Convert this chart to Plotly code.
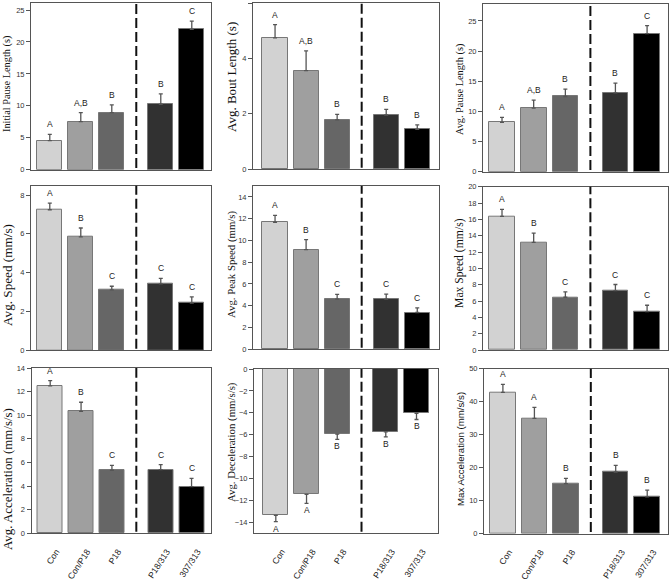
import plotly.graph_objects as go

# ---------------- data ----------------
categories = ["Con", "Con/P18", "P18", "P18/313", "307/313"]

initial_pause_mean = [4.55, 7.53, 8.94, 10.25, 21.97]
initial_pause_se = [0.99, 1.41, 1.21, 1.62, 1.30]
initial_pause_letters = ["A", "A,B", "B", "B", "C"]

bout_length_mean = [4.74, 3.56, 1.78, 1.96, 1.44]
bout_length_se = [0.48, 0.71, 0.20, 0.20, 0.16]
bout_length_letters = ["A", "A,B", "B", "B", "B"]

pause_length_mean = [8.17, 10.54, 12.47, 13.08, 22.90]
pause_length_se = [0.83, 1.32, 1.23, 1.60, 1.30]
pause_length_letters = ["A", "A,B", "B", "B", "C"]

avg_speed_mean = [7.24, 5.84, 3.11, 3.42, 2.43]
avg_speed_se = [0.34, 0.46, 0.19, 0.29, 0.32]
avg_speed_letters = ["A", "B", "C", "C", "C"]

peak_speed_mean = [11.67, 9.15, 4.60, 4.60, 3.38]
peak_speed_se = [0.64, 0.92, 0.44, 0.47, 0.42]
peak_speed_letters = ["A", "B", "C", "C", "C"]

max_speed_mean = [16.37, 13.17, 6.46, 7.28, 4.70]
max_speed_se = [0.85, 1.15, 0.66, 0.74, 0.78]
max_speed_letters = ["A", "B", "C", "C", "C"]

avg_accel_mean = [12.48, 10.33, 5.34, 5.39, 3.95]
avg_accel_se = [0.45, 0.77, 0.42, 0.43, 0.71]
avg_accel_letters = ["A", "B", "C", "C", "C"]

avg_decel_mean = [-13.36, -11.45, -5.95, -5.74, -4.04]
avg_decel_se = [0.58, 0.82, 0.48, 0.45, 0.57]
avg_decel_letters = ["A", "A", "B", "B", "B"]

max_accel_mean = [42.80, 34.95, 15.15, 18.70, 11.20]
max_accel_se = [2.45, 3.35, 1.62, 2.00, 2.00]
max_accel_letters = ["A", "A", "B", "B", "B"]

# ---------------- layout / style ----------------
W, H = 669, 584
x_pos = [0, 1, 2, 3.58, 4.58]
divider_x = 2.79
bar_colors = ["#d2d2d2", "#9f9f9f", "#666666", "#313131", "#000000"]

panels = [
    # title, means, se, letters, box(px: l, r, top, bottom), yrange, dtick, xrange, title font, title pos(px), title family
    ("Initial Pause Length (s)", initial_pause_mean, initial_pause_se, initial_pause_letters,
     (31, 211, 3, 169.7), [0, 26.1], 5, [-0.606, 5.2], 10.3, (7, 84), "Liberation Serif"),
    ("Avg. Bout Length (s)", bout_length_mean, bout_length_se, bout_length_letters,
     (253, 439, 3, 169.3), [0, 6], 2, [-0.71, 5.28], 13, (231, 77), "Liberation Serif"),
    ("Avg. Pause Length (s)", pause_length_mean, pause_length_se, pause_length_letters,
     (483, 668, 4, 171.7), [0, 27.8], 5, [-0.6, 5.24], 10.3, (460, 89), "Liberation Serif"),
    ("Avg. Speed (mm/s)", avg_speed_mean, avg_speed_se, avg_speed_letters,
     (31, 211, 185.7, 350.3), [0, 8.48], 2, [-0.606, 5.2], 13.2, (8, 275), "Liberation Serif"),
    ("Avg. Peak Speed (mm/s)", peak_speed_mean, peak_speed_se, peak_speed_letters,
     (253, 439, 186, 349.3), [0, 15], 2, [-0.71, 5.28], 10.8, (231, 264), "Liberation Serif"),
    ("Max Speed (mm/s)", max_speed_mean, max_speed_se, max_speed_letters,
     (483, 668, 186.7, 350), [0, 20], 2, [-0.6, 5.24], 11.7, (459, 263), "Liberation Serif"),
    ("Avg. Acceleration (mm/s/s)", avg_accel_mean, avg_accel_se, avg_accel_letters,
     (31.5, 210.7, 368, 533.3), [0, 14], 2, [-0.606, 5.2], 12.9, (8, 479), "Liberation Serif"),
    ("Avg. Deceleration (mm/s/s)", avg_decel_mean, avg_decel_se, avg_decel_letters,
     (254, 438, 369, 533.3), [-15, 0], 2, [-0.71, 5.28], 10.8, (231, 442), "Liberation Serif"),
    ("Max Acceleration (mm/s/s)", max_accel_mean, max_accel_se, max_accel_letters,
     (484, 668, 368.7, 533.7), [0, 50], 10, [-0.6, 5.24], 9.7, (460, 449), "Liberation Sans"),
]

fig = go.Figure()
annotations = []
shapes = []

for i, (title, means, se, letters, box, yr, dt, xr, tfs, tpos, tfam) in enumerate(panels):
    n = i + 1
    xa = "x" if n == 1 else f"x{n}"
    ya = "y" if n == 1 else f"y{n}"
    neg = means[0] < 0
    zeros = [0] * len(se)
    fig.add_trace(go.Bar(
        x=x_pos, y=means, width=0.81,
        marker=dict(color=bar_colors, line=dict(color="#777777", width=1)),
        error_y=dict(type="data", symmetric=False,
                     array=zeros if neg else se,
                     arrayminus=se if neg else zeros,
                     color="#555555", thickness=1.3, width=2),
        xaxis=xa, yaxis=ya, showlegend=False, hoverinfo="skip",
    ))
    l, r, t, b = box
    bottom_row = n >= 7
    xkey = "xaxis" if n == 1 else f"xaxis{n}"
    ykey = "yaxis" if n == 1 else f"yaxis{n}"
    fig.update_layout({
        xkey: dict(domain=[l / W, r / W], range=xr, anchor=ya, automargin=False,
                   showgrid=False, zeroline=False, showline=True, mirror=True,
                   linecolor="#555555", linewidth=1, ticks="",
                   tickvals=x_pos, ticktext=categories,
                   showticklabels=bottom_row, tickangle=-57,
                   ticklabelstandoff=9, ticklabelshift=6,
                   tickfont=dict(family="Liberation Sans", size=8.7, color="#222222")),
        ykey: dict(domain=[1 - b / H, 1 - t / H], range=yr, anchor=xa, automargin=False,
                   dtick=dt, tick0=0, showgrid=False, zeroline=False,
                   showline=True, mirror=True, linecolor="#555555", linewidth=1,
                   ticks="outside", ticklen=4, tickcolor="#555555", tickwidth=1,
                   tickfont=dict(family="Liberation Sans", size=7.5, color="#333333")),
    })
    # divider
    shapes.append(dict(type="line", xref=xa, yref=f"{ya} domain", x0=divider_x, x1=divider_x,
                       y0=0.01, y1=1, line=dict(color="#111111", width=2, dash="10px,4px")))
    # significance letters
    for xv, m, s, lt in zip(x_pos, means, se, letters):
        if neg:
            annotations.append(dict(x=xv, y=m - s, xref=xa, yref=ya, text=lt, showarrow=False,
                                    yanchor="top", yshift=0,
                                    font=dict(family="Liberation Sans", size=8.5, color="#222222")))
        else:
            annotations.append(dict(x=xv, y=m + s, xref=xa, yref=ya, text=lt, showarrow=False,
                                    yanchor="bottom", yshift=3,
                                    font=dict(family="Liberation Sans", size=8.5, color="#222222")))
    # y-axis title
    cx, cy = tpos
    annotations.append(dict(x=cx / W, y=1 - cy / H, xref="paper", yref="paper", text=title,
                            showarrow=False, textangle=-90, xanchor="center", yanchor="middle",
                            font=dict(family=tfam, size=tfs, color="#111111")))

fig.update_layout(
    width=W, height=H, margin=dict(l=0, r=0, t=0, b=0),
    paper_bgcolor="white", plot_bgcolor="white",
    annotations=annotations, shapes=shapes, bargap=0,
)

fig.write_html("out.html", config={"displayModeBar": False},
               post_script="document.body.style.margin='0';document.body.style.overflow='hidden';")
